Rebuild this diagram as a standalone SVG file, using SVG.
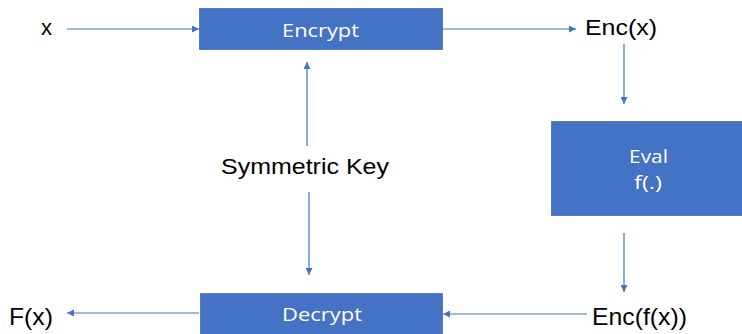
<svg xmlns="http://www.w3.org/2000/svg" width="742" height="334" viewBox="0 0 742 334">
<style>
.box{fill:#4472C4;stroke:#5B7DB8;stroke-width:1}
.wt{fill:#ffffff;font-family:"Open Sans","Liberation Sans",sans-serif;font-size:19px}
.lb{fill:#000000;font-family:"Liberation Sans",Arial,sans-serif;font-size:22px}
.lb2{fill:#000000;font-family:"Liberation Sans",Arial,sans-serif;font-size:24px}
.ar{stroke:#4472C4;stroke-width:1.2;fill:none;marker-end:url(#ah)}
</style>
<defs>
<marker id="ah" viewBox="0 0 10 10" refX="10" refY="5" markerWidth="7" markerHeight="7" markerUnits="userSpaceOnUse" orient="auto">
<path d="M0,0 L10,5 L0,10 z" fill="#4472C4"/>
</marker>
</defs>
<rect width="742" height="334" fill="#ffffff"/>
<g id="connectors">
<line class="ar" x1="67" y1="29" x2="199" y2="29"/>
<line class="ar" x1="443" y1="29" x2="576" y2="29"/>
<line class="ar" x1="624" y1="44" x2="624" y2="104"/>
<line class="ar" x1="624" y1="233" x2="624" y2="292"/>
<line class="ar" x1="587" y1="314" x2="443" y2="314"/>
<line class="ar" x1="199" y1="313" x2="67" y2="313"/>
<line class="ar" x1="307" y1="146" x2="307" y2="62"/>
<line class="ar" x1="309" y1="192" x2="309" y2="275"/>
</g>
<g id="x"><text class="lb" x="41" y="35">x</text></g>
<g id="encrypt">
<rect class="box" x="199.5" y="8.5" width="243" height="41"/>
<text class="wt" x="282" y="37" textLength="77" lengthAdjust="spacingAndGlyphs">Encrypt</text>
</g>
<g id="encx"><text class="lb" x="585" y="35" textLength="72" lengthAdjust="spacingAndGlyphs">Enc(x)</text></g>
<g id="eval">
<rect class="box" x="551.5" y="121.5" width="195" height="94"/>
<text class="wt" x="629" y="163" textLength="39" lengthAdjust="spacingAndGlyphs">Eval</text>
<text class="wt" x="634" y="189" textLength="28" lengthAdjust="spacingAndGlyphs">f(.)</text>
</g>
<g id="key"><text class="lb" x="221" y="174" textLength="168" lengthAdjust="spacingAndGlyphs">Symmetric Key</text></g>
<g id="decrypt">
<rect class="box" x="200.5" y="293.5" width="242" height="45"/>
<text class="wt" x="282" y="321" textLength="80" lengthAdjust="spacingAndGlyphs">Decrypt</text>
</g>
<g id="encfx"><text class="lb2" x="592" y="325" textLength="95" lengthAdjust="spacingAndGlyphs">Enc(f(x))</text></g>
<g id="fx"><text class="lb2" x="9" y="325" textLength="44" lengthAdjust="spacingAndGlyphs">F(x)</text></g>
</svg>
